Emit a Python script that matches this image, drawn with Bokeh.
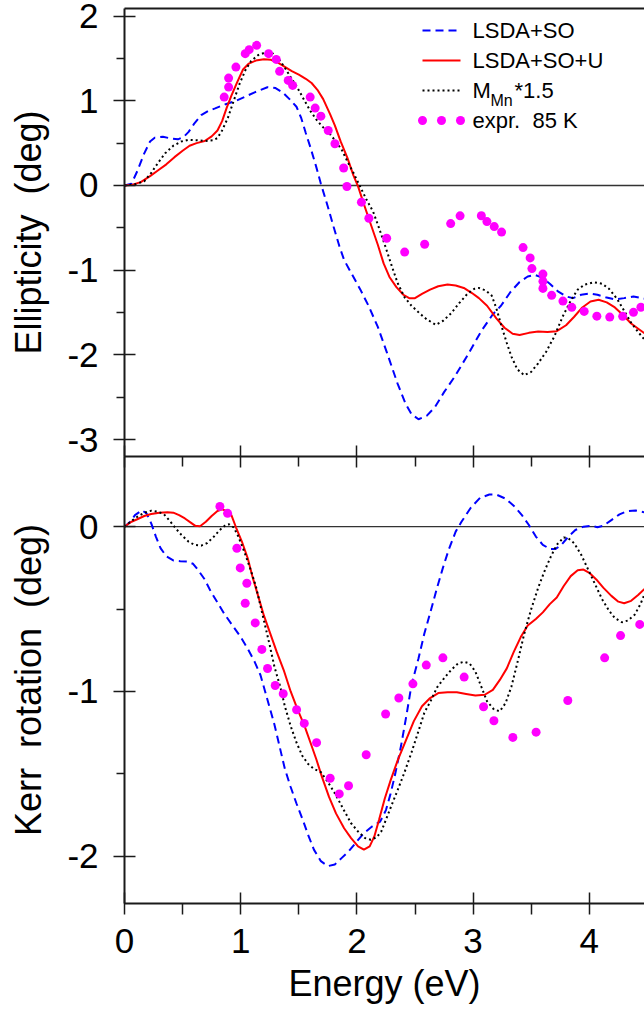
from bokeh.plotting import figure
from bokeh.models import Range1d, LinearAxis, FixedTicker, CustomJSTickFormatter, Grid, Label
from bokeh.core.properties import value
from bokeh.embed import file_html
from bokeh.resources import INLINE

FONT = "Liberation Sans"

# ---------------- Ellipticity (deg) vs photon energy (eV) ----------------
ELL_LSDA_SO = [
    (0.00, 0.00), (0.06, 0.02), (0.11, 0.17), (0.17, 0.38), (0.22, 0.52), (0.26, 0.565),
    (0.33, 0.575), (0.40, 0.555), (0.46, 0.545), (0.51, 0.575), (0.55, 0.63), (0.60, 0.73),
    (0.66, 0.83), (0.72, 0.88), (0.78, 0.91), (0.87, 0.96), (0.96, 1.00), (1.04, 1.05),
    (1.12, 1.10), (1.23, 1.16), (1.30, 1.15), (1.36, 1.10), (1.42, 1.02), (1.48, 0.93),
    (1.52, 0.80), (1.56, 0.62), (1.60, 0.45), (1.65, 0.22), (1.69, 0.02), (1.75, -0.25),
    (1.80, -0.49), (1.85, -0.72), (1.89, -0.88), (1.95, -1.03), (2.03, -1.23), (2.10, -1.42),
    (2.18, -1.67), (2.26, -1.98), (2.35, -2.34), (2.42, -2.58), (2.47, -2.70), (2.53, -2.76),
    (2.60, -2.72), (2.67, -2.62), (2.75, -2.44), (2.84, -2.26), (2.95, -2.01), (3.07, -1.72),
    (3.17, -1.52), (3.24, -1.42), (3.32, -1.26), (3.40, -1.14), (3.47, -1.075), (3.53, -1.055),
    (3.59, -1.085), (3.66, -1.16), (3.73, -1.25), (3.80, -1.31), (3.86, -1.33), (3.93, -1.29),
    (4.00, -1.275), (4.07, -1.29), (4.14, -1.32), (4.22, -1.345), (4.30, -1.33), (4.38, -1.31),
    (4.475, -1.335),
]
ELL_LSDA_SO_U = [
    (0.00, 0.00), (0.07, 0.01), (0.14, 0.04), (0.22, 0.11), (0.29, 0.18), (0.36, 0.25),
    (0.43, 0.335), (0.50, 0.41), (0.56, 0.47), (0.62, 0.50), (0.69, 0.525), (0.75, 0.58),
    (0.80, 0.65), (0.84, 0.76), (0.88, 0.92), (0.92, 1.06), (0.97, 1.22), (1.02, 1.37),
    (1.07, 1.44), (1.13, 1.475), (1.20, 1.49), (1.26, 1.485), (1.32, 1.45), (1.38, 1.40),
    (1.44, 1.35), (1.50, 1.31), (1.56, 1.26), (1.61, 1.21), (1.66, 1.13), (1.71, 1.02),
    (1.77, 0.84), (1.81, 0.71), (1.86, 0.52), (1.92, 0.32), (1.97, 0.12), (2.01, -0.01),
    (2.06, -0.22), (2.12, -0.46), (2.18, -0.70), (2.23, -0.92), (2.28, -1.08), (2.34, -1.20),
    (2.40, -1.29), (2.45, -1.33), (2.50, -1.33), (2.56, -1.28), (2.63, -1.23), (2.70, -1.19),
    (2.78, -1.17), (2.85, -1.18), (2.92, -1.21), (2.99, -1.27), (3.05, -1.33), (3.12, -1.42),
    (3.20, -1.57), (3.27, -1.68), (3.34, -1.75), (3.40, -1.765), (3.48, -1.74), (3.56, -1.725),
    (3.64, -1.73), (3.72, -1.72), (3.80, -1.65), (3.87, -1.55), (3.94, -1.44), (4.01, -1.37),
    (4.08, -1.35), (4.15, -1.38), (4.22, -1.44), (4.29, -1.53), (4.36, -1.63), (4.43, -1.70),
    (4.475, -1.745),
]
ELL_MMN_15 = [
    (0.00, 0.00), (0.08, 0.01), (0.17, 0.05), (0.23, 0.15), (0.29, 0.27), (0.35, 0.38),
    (0.42, 0.47), (0.49, 0.52), (0.55, 0.54), (0.62, 0.535), (0.69, 0.525), (0.76, 0.535),
    (0.80, 0.56), (0.84, 0.65), (0.89, 0.80), (0.94, 1.00), (0.99, 1.20), (1.04, 1.36),
    (1.09, 1.47), (1.15, 1.54), (1.22, 1.575), (1.28, 1.555), (1.33, 1.49), (1.38, 1.39),
    (1.43, 1.28), (1.49, 1.15), (1.55, 1.00), (1.60, 0.88), (1.65, 0.78), (1.70, 0.70),
    (1.76, 0.62), (1.82, 0.52), (1.87, 0.42), (1.92, 0.28), (1.97, 0.15), (2.02, 0.01),
    (2.08, -0.16), (2.14, -0.31), (2.19, -0.50), (2.24, -0.70), (2.30, -0.95), (2.35, -1.15),
    (2.41, -1.32), (2.47, -1.42), (2.54, -1.51), (2.60, -1.58), (2.68, -1.645), (2.74, -1.60),
    (2.81, -1.51), (2.88, -1.39), (2.95, -1.28), (3.01, -1.22), (3.05, -1.21), (3.11, -1.24),
    (3.16, -1.30), (3.20, -1.45), (3.24, -1.64), (3.29, -1.86), (3.33, -2.02), (3.38, -2.17),
    (3.44, -2.24), (3.50, -2.20), (3.56, -2.10), (3.63, -1.96), (3.70, -1.78), (3.77, -1.55),
    (3.84, -1.36), (3.90, -1.23), (3.96, -1.17), (4.04, -1.143), (4.11, -1.16), (4.17, -1.22),
    (4.24, -1.34), (4.30, -1.48), (4.36, -1.62), (4.42, -1.73), (4.475, -1.82),
]
ELL_EXPR_85K = [
    (0.858, 1.044), (0.896, 1.162), (0.896, 1.268), (0.959, 1.398), (1.039, 1.557),
    (1.073, 1.604), (1.137, 1.655), (1.240, 1.557), (1.306, 1.489), (1.335, 1.348),
    (1.409, 1.241), (1.447, 1.182), (1.598, 1.044), (1.641, 0.914), (1.690, 0.819),
    (1.753, 0.650), (1.811, 0.493), (1.886, 0.207), (1.914, -0.012), (2.039, -0.197),
    (2.103, -0.387), (2.256, -0.623), (2.411, -0.786), (2.583, -0.694), (2.807, -0.450),
    (2.888, -0.358), (3.071, -0.357), (3.119, -0.426), (3.182, -0.485), (3.245, -0.550),
    (3.430, -0.733), (3.491, -0.855), (3.506, -0.981), (3.601, -1.046), (3.601, -1.132),
    (3.601, -1.215), (3.676, -1.297), (3.773, -1.365), (3.849, -1.439), (3.956, -1.487),
    (4.065, -1.543), (4.176, -1.554), (4.287, -1.545), (4.380, -1.498), (4.444, -1.438),
]

# ---------------- Kerr rotation (deg) vs photon energy (eV) ----------------
KERR_LSDA_SO = [
    (0.00, 0.00), (0.05, 0.03), (0.09, 0.07), (0.15, 0.10), (0.19, 0.08), (0.23, 0.02),
    (0.27, -0.06), (0.31, -0.13), (0.36, -0.18), (0.42, -0.205), (0.48, -0.21), (0.54, -0.212),
    (0.59, -0.225), (0.63, -0.26), (0.69, -0.32), (0.74, -0.39), (0.80, -0.46), (0.86, -0.53),
    (0.93, -0.60), (1.00, -0.67), (1.06, -0.74), (1.12, -0.82), (1.17, -0.90), (1.21, -1.00),
    (1.25, -1.10), (1.29, -1.20), (1.34, -1.35), (1.38, -1.47), (1.43, -1.58), (1.48, -1.68),
    (1.54, -1.79), (1.58, -1.87), (1.63, -1.96), (1.69, -2.03), (1.75, -2.06), (1.81, -2.05),
    (1.87, -2.01), (1.93, -1.97), (2.00, -1.91), (2.06, -1.86), (2.13, -1.82), (2.20, -1.79),
    (2.25, -1.72), (2.29, -1.62), (2.33, -1.50), (2.38, -1.33), (2.43, -1.13), (2.47, -0.96),
    (2.53, -0.80), (2.58, -0.65), (2.64, -0.50), (2.69, -0.37), (2.74, -0.25), (2.79, -0.14),
    (2.85, -0.03), (2.90, 0.03), (2.98, 0.115), (3.06, 0.175), (3.14, 0.195), (3.20, 0.195),
    (3.28, 0.17), (3.36, 0.12), (3.42, 0.07), (3.48, 0.01), (3.54, -0.06), (3.60, -0.11),
    (3.66, -0.135), (3.71, -0.135), (3.76, -0.11), (3.82, -0.06), (3.88, -0.02), (3.95, 0.00),
    (4.02, 0.005), (4.07, -0.003), (4.12, 0.005), (4.19, 0.04), (4.26, 0.075), (4.33, 0.095),
    (4.40, 0.098), (4.475, 0.087),
]
KERR_LSDA_SO_U = [
    (0.00, 0.00), (0.06, 0.03), (0.11, 0.045), (0.17, 0.065), (0.23, 0.077), (0.30, 0.085),
    (0.37, 0.088), (0.42, 0.085), (0.47, 0.07), (0.52, 0.05), (0.57, 0.025), (0.61, 0.005),
    (0.65, 0.003), (0.70, 0.03), (0.75, 0.065), (0.80, 0.095), (0.84, 0.105), (0.88, 0.095),
    (0.92, 0.07), (0.96, -0.005), (1.01, -0.09), (1.06, -0.19), (1.10, -0.30), (1.15, -0.42),
    (1.20, -0.54), (1.25, -0.64), (1.31, -0.76), (1.37, -0.87), (1.43, -1.00), (1.49, -1.11),
    (1.55, -1.21), (1.60, -1.31), (1.65, -1.41), (1.70, -1.52), (1.76, -1.64), (1.82, -1.74),
    (1.89, -1.83), (1.95, -1.89), (2.01, -1.94), (2.06, -1.96), (2.11, -1.94), (2.15, -1.88),
    (2.19, -1.78), (2.24, -1.65), (2.29, -1.54), (2.35, -1.42), (2.42, -1.30), (2.49, -1.18),
    (2.56, -1.09), (2.63, -1.04), (2.70, -1.01), (2.78, -1.005), (2.86, -1.005), (2.94, -1.015),
    (3.02, -1.025), (3.10, -1.02), (3.17, -0.99), (3.23, -0.93), (3.29, -0.86), (3.35, -0.76),
    (3.41, -0.67), (3.47, -0.60), (3.54, -0.56), (3.60, -0.52), (3.66, -0.47), (3.72, -0.43),
    (3.78, -0.36), (3.84, -0.30), (3.90, -0.265), (3.95, -0.26), (4.00, -0.28), (4.06, -0.32),
    (4.12, -0.37), (4.19, -0.42), (4.25, -0.455), (4.30, -0.465), (4.36, -0.45), (4.42, -0.415),
    (4.475, -0.378),
]
KERR_MMN_15 = [
    (0.00, 0.00), (0.06, 0.035), (0.11, 0.06), (0.17, 0.085), (0.23, 0.097), (0.29, 0.09),
    (0.34, 0.075), (0.39, 0.035), (0.44, -0.01), (0.49, -0.05), (0.55, -0.09), (0.60, -0.11),
    (0.66, -0.115), (0.71, -0.10), (0.77, -0.06), (0.82, -0.02), (0.87, 0.01), (0.90, 0.015),
    (0.94, -0.005), (0.98, -0.06), (1.03, -0.15), (1.08, -0.25), (1.13, -0.36), (1.17, -0.48),
    (1.21, -0.60), (1.25, -0.72), (1.29, -0.85), (1.34, -0.97), (1.38, -1.09), (1.43, -1.21),
    (1.48, -1.31), (1.53, -1.39), (1.58, -1.44), (1.63, -1.47), (1.69, -1.49), (1.75, -1.55),
    (1.82, -1.63), (1.88, -1.71), (1.95, -1.80), (2.01, -1.85), (2.07, -1.89), (2.12, -1.90),
    (2.17, -1.885), (2.21, -1.85), (2.26, -1.76), (2.31, -1.67), (2.35, -1.60), (2.41, -1.49),
    (2.47, -1.37), (2.53, -1.24), (2.58, -1.13), (2.64, -1.05), (2.69, -0.975), (2.75, -0.92),
    (2.81, -0.87), (2.87, -0.83), (2.92, -0.82), (2.97, -0.83), (3.02, -0.88), (3.07, -0.97),
    (3.12, -1.06), (3.18, -1.11), (3.23, -1.12), (3.28, -1.07), (3.33, -0.97), (3.39, -0.80),
    (3.44, -0.65), (3.50, -0.50), (3.56, -0.37), (3.62, -0.26), (3.67, -0.18), (3.72, -0.11),
    (3.78, -0.065), (3.82, -0.07), (3.87, -0.10), (3.93, -0.17), (3.99, -0.26), (4.05, -0.35),
    (4.11, -0.44), (4.17, -0.51), (4.22, -0.555), (4.28, -0.58), (4.33, -0.57), (4.39, -0.535),
    (4.44, -0.47), (4.475, -0.41),
]
KERR_EXPR_85K = [
    (0.821, 0.123), (0.887, 0.081), (0.967, -0.131), (0.996, -0.250), (1.053, -0.343),
    (1.039, -0.465), (1.125, -0.584), (1.182, -0.745), (1.231, -0.861), (1.297, -0.964),
    (1.366, -1.014), (1.481, -1.111), (1.547, -1.194), (1.653, -1.311), (1.770, -1.527),
    (1.848, -1.622), (1.928, -1.572), (2.080, -1.384), (2.247, -1.137), (2.361, -1.040),
    (2.482, -0.954), (2.597, -0.840), (2.740, -0.796), (2.923, -0.913), (3.090, -1.093),
    (3.179, -1.178), (3.342, -1.279), (3.542, -1.247), (3.815, -1.055), (4.132, -0.796),
    (4.269, -0.661), (4.434, -0.593),
]

SERIES_NAMES = ["LSDA+SO", "LSDA+SO+U", "M_Mn*1.5", "expr.  85 K"]
X_TICKS = [0, 1, 2, 3, 4]
X_MINOR = [0.5, 1.5, 2.5, 3.5]
ELL_TICKS = [-3, -2, -1, 0, 1, 2]
ELL_MINOR = [-2.5, -1.5, -0.5, 0.5, 1.5]
KERR_TICKS = [-2, -1, 0]
KERR_MINOR = [-1.5, -0.5]

# ---------------- layout ----------------
X_RANGE = (0.0, 4.475)        # visible energy span of both panels
ELL_RANGE = (-3.2, 2.09)      # visible span of the upper panel
KERR_RANGE = (-2.287, 0.426)  # visible span of the lower panel
WIDTH, HEIGHT = 644, 1012
LEFT, TOP_GAP, BOTTOM_GAP = 124, 8, 109
TOP_FRAME_H = 448
BOT_FRAME_H = HEIGHT - TOP_GAP - BOTTOM_GAP - TOP_FRAME_H
TICK_FONT = "35px"
LABEL_FONT = "36px"
X_TITLE_DROP = 80               # energy title centre, pixels below the lower panel

BLUE = "#0000ff"
RED = "#ff0000"
MAGENTA = "#ff00ff"
INK = "#1a1a1a"

# One frame covers the whole canvas and holds both panels. The ellipticity
# scale fills the upper part and the Kerr scale (an extra y range) the lower
# part; all axes sit at fixed locations so their labels stay inside the frame.
x_per_px = (X_RANGE[1] - X_RANGE[0]) / (WIDTH - LEFT)
ell_per_px = (ELL_RANGE[1] - ELL_RANGE[0]) / TOP_FRAME_H
kerr_per_px = (KERR_RANGE[1] - KERR_RANGE[0]) / BOT_FRAME_H
x_full = Range1d(X_RANGE[0] - LEFT * x_per_px, X_RANGE[1])
ell_full = Range1d(ELL_RANGE[1] - (HEIGHT - TOP_GAP) * ell_per_px,
                   ELL_RANGE[1] + TOP_GAP * ell_per_px)
kerr_full = Range1d(KERR_RANGE[0] - BOTTOM_GAP * kerr_per_px,
                    KERR_RANGE[0] + (HEIGHT - BOTTOM_GAP) * kerr_per_px)


def xy(pairs):
    return [p[0] for p in pairs], [p[1] for p in pairs]


def axis(ticks, minor, label=None, fixed=None, tin=0, tout=0, min_in=0, min_out=0,
         labels=True, **kw):
    code = "return tick.toFixed(0);" if labels else "return '';"
    ax = LinearAxis(ticker=FixedTicker(ticks=ticks, minor_ticks=minor),
                    formatter=CustomJSTickFormatter(code=code),
                    fixed_location=fixed, **kw)
    ax.axis_label = label
    ax.axis_line_color = INK
    ax.axis_line_width = 2
    ax.major_tick_line_color = INK
    ax.major_tick_line_width = 1.5
    ax.minor_tick_line_color = INK
    ax.minor_tick_line_width = 1.5
    ax.major_tick_in = tin
    ax.major_tick_out = tout
    ax.minor_tick_in = min_in
    ax.minor_tick_out = min_out
    ax.major_label_text_font = FONT
    ax.major_label_text_font_size = TICK_FONT if labels else "0px"
    ax.major_label_text_color = "black"
    ax.axis_label_text_font = FONT
    ax.axis_label_text_font_size = LABEL_FONT
    ax.axis_label_text_font_style = "normal"
    ax.axis_label_text_color = "black"
    return ax


p = figure(width=WIDTH, height=HEIGHT,
           x_range=x_full, y_range=ell_full,
           output_backend="svg", toolbar_location=None,
           x_axis_location=None, y_axis_location=None,
           min_border_left=0, min_border_right=0,
           min_border_top=0, min_border_bottom=0,
           outline_line_color=None,
           background_fill_color="white", border_fill_color="white")
p.extra_y_ranges = {"kerr": kerr_full}
for r in list(p.center):
    if isinstance(r, Grid):
        r.visible = False

# zero lines of both panels
p.segment(x0=[X_RANGE[0]], x1=[X_RANGE[1]], y0=[0], y1=[0],
          line_color="#333333", line_width=1.3)
p.segment(x0=[X_RANGE[0]], x1=[X_RANGE[1]], y0=[0], y1=[0],
          line_color="#333333", line_width=1.3, y_range_name="kerr")

# left axes, one per panel
ell_axis = axis(ELL_TICKS, ELL_MINOR, label="Ellipticity\u00a0 (deg)", fixed=X_RANGE[0],
                tin=11, tout=11, min_out=8, bounds=ELL_RANGE)
ell_axis.major_label_standoff = 15
ell_axis.axis_label_standoff = 15
p.add_layout(ell_axis, "left")

kerr_axis = axis(KERR_TICKS, KERR_MINOR, label="Kerr\u00a0 rotation\u00a0 (deg)",
                 fixed=X_RANGE[0], tin=11, tout=11, min_out=8, bounds=KERR_RANGE,
                 y_range_name="kerr")
kerr_axis.major_label_standoff = 15
kerr_axis.axis_label_standoff = 15
p.add_layout(kerr_axis, "left")

# top border, panel divider and energy axis
p.add_layout(axis([], [], fixed=ELL_RANGE[1], labels=False, bounds=X_RANGE), "above")
p.add_layout(axis(X_TICKS, X_MINOR, fixed=ELL_RANGE[0], tin=11, tout=11, min_out=10,
                  labels=False, bounds=X_RANGE), "below")
energy_axis = axis(X_TICKS, X_MINOR, fixed=KERR_RANGE[0], tin=11, tout=11, min_out=11,
                   bounds=X_RANGE, y_range_name="kerr")
energy_axis.major_label_standoff = 14
p.add_layout(energy_axis, "below")

# energy title, centred under the visible energy span
p.add_layout(Label(x=(X_RANGE[0] + X_RANGE[1]) / 2,
                   y=KERR_RANGE[0] - X_TITLE_DROP * kerr_per_px, y_range_name="kerr",
                   text="Energy (eV)", text_font=FONT, text_font_size=LABEL_FONT,
                   text_align="center", text_baseline="middle", text_color="black"))

# ---------------- upper panel: ellipticity ----------------
ex, ey = xy(ELL_LSDA_SO)
p.line(ex, ey, line_color=BLUE, line_width=2, line_dash="8 5")
ex, ey = xy(ELL_LSDA_SO_U)
p.line(ex, ey, line_color=RED, line_width=2)
ex, ey = xy(ELL_MMN_15)
p.line(ex, ey, line_color="black", line_width=2, line_dash="2 3")
ex, ey = xy(ELL_EXPR_85K)
p.scatter(ex, ey, marker="circle", size=9, fill_color=MAGENTA, line_color=None)

# ---------------- lower panel: Kerr rotation ----------------
kx, ky = xy(KERR_LSDA_SO)
p.line(kx, ky, line_color=BLUE, line_width=2, line_dash="8 5", y_range_name="kerr")
kx, ky = xy(KERR_LSDA_SO_U)
p.line(kx, ky, line_color=RED, line_width=2, y_range_name="kerr")
kx, ky = xy(KERR_MMN_15)
p.line(kx, ky, line_color="black", line_width=2, line_dash="2 3", y_range_name="kerr")
kx, ky = xy(KERR_EXPR_85K)
p.scatter(kx, ky, marker="circle", size=9, fill_color=MAGENTA, line_color=None,
          y_range_name="kerr")

# ---------------- legend (upper panel), placed by pixel offsets from the panel corner ----------------
def lx(dx):
    return X_RANGE[0] + dx * x_per_px


def ly(dy):
    return ELL_RANGE[1] - dy * ell_per_px


ROWS = [22, 52, 82, 112]
S0, S1, TX = 298, 336, 348
p.line([lx(S0), lx(S1)], [ly(ROWS[0])] * 2, line_color=BLUE, line_width=2, line_dash="8 5")
p.line([lx(S0), lx(S1)], [ly(ROWS[1])] * 2, line_color=RED, line_width=2)
p.line([lx(S0), lx(S1)], [ly(ROWS[2])] * 2, line_color="black", line_width=2, line_dash="2 3")
p.scatter([lx(S0), lx((S0 + S1) / 2), lx(S1)], [ly(ROWS[3])] * 3, marker="circle",
          size=9, fill_color=MAGENTA, line_color=None)

txt = dict(text_font=value(FONT), text_baseline="middle", text_align="left",
           text_color="black")
p.text([lx(TX), lx(TX)], [ly(ROWS[0]), ly(ROWS[1])],
       text=[SERIES_NAMES[0], SERIES_NAMES[1]], text_font_size="22px", **txt)
p.text([lx(TX)], [ly(ROWS[2])], text=["M"], text_font_size="22px", **txt)
p.text([lx(TX + 18)], [ly(ROWS[2] + 10)], text=["Mn"], text_font_size="16px", **txt)
p.text([lx(TX + 42)], [ly(ROWS[2])], text=["*1.5"], text_font_size="22px", **txt)
p.text([lx(TX)], [ly(ROWS[3])], text=["expr.\u00a0 85 K"], text_font_size="22px", **txt)

open("out.html", "w").write(file_html(p, INLINE))
